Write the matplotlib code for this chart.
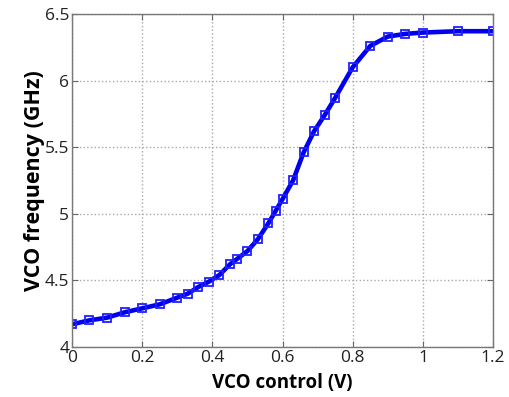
import matplotlib
matplotlib.use("Agg")
import matplotlib.pyplot as plt

# VCO tuning curve
vctrl = [0.0, 0.05, 0.10, 0.15, 0.20, 0.25, 0.30, 0.33, 0.36, 0.39, 0.42,
         0.45, 0.47, 0.50, 0.53, 0.56, 0.58, 0.60, 0.63, 0.66, 0.69, 0.72,
         0.75, 0.80, 0.85, 0.90, 0.95, 1.00, 1.10, 1.20]
freq = [4.17, 4.20, 4.22, 4.26, 4.29, 4.32, 4.37, 4.40, 4.45, 4.49, 4.54,
        4.62, 4.66, 4.72, 4.81, 4.93, 5.02, 5.11, 5.25, 5.46, 5.62, 5.74,
        5.87, 6.10, 6.26, 6.33, 6.35, 6.36, 6.37, 6.37]

xticks = [0, 0.2, 0.4, 0.6, 0.8, 1.0, 1.2]
xticklabels = ["0", "0.2", "0.4", "0.6", "0.8", "1", "1.2"]
yticks = [4, 4.5, 5, 5.5, 6, 6.5]
yticklabels = ["4", "4.5", "5", "5.5", "6", "6.5"]

plt.rcParams['font.family'] = ['Open Sans', 'DejaVu Sans']

fig = plt.figure(figsize=(5.1, 3.97), dpi=100)
ax = fig.add_axes([0.141, 0.126, 0.826, 0.839])

ax.plot(vctrl, freq, color='#0000ee', linewidth=3.3, marker='s',
        markersize=6, markerfacecolor='none', markeredgecolor='#2020ff',
        markeredgewidth=1.3)

ax.set_xlim(0, 1.2)
ax.set_ylim(4, 6.5)
ax.set_xticks(xticks)
ax.set_xticklabels(xticklabels)
ax.set_yticks(yticks)
ax.set_yticklabels(yticklabels)

ax.grid(True, linestyle=':', color='#a8a8a8', linewidth=1.0)
ax.tick_params(direction='in', length=4, color='#666666', labelsize=12.5,
               labelcolor='#222222', top=True, right=True, pad=2)
for s in ax.spines.values():
    s.set_color('#777777')
    s.set_linewidth(1.0)

ax.set_xlabel("VCO control (V)", fontsize=13.5, fontweight='bold', labelpad=5)
ax.set_ylabel("VCO frequency (GHz)", fontsize=15.5, fontweight='bold', labelpad=0)

fig.savefig("out.png", dpi=100)
